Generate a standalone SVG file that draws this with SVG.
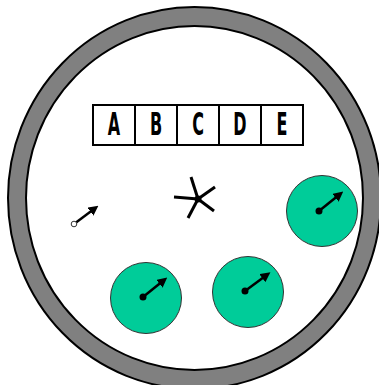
<svg xmlns="http://www.w3.org/2000/svg" width="379" height="385" viewBox="0 0 379 385">
<defs>
<style>
.box{fill:#fff;stroke:#000;stroke-width:2}
.lbl{font-family:"DejaVu Sans","Liberation Sans",sans-serif;font-weight:bold;font-size:32px;text-anchor:middle;fill:#000}
.ball{fill:#00CC99;stroke:#333;stroke-width:1}
.vec{stroke:#000;stroke-width:2.5;fill:none}
.spoke{stroke:#000;stroke-width:3;fill:none;stroke-linecap:butt}
</style>
<marker id="ah" viewBox="0 0 10 10" refX="2" refY="5" markerWidth="4" markerHeight="4" markerUnits="strokeWidth" orient="auto">
<path d="M0,0 L10,5 L0,10 z" fill="#000"/>
</marker>
</defs>
<g id="container">
<ellipse cx="194.5" cy="198" rx="186.5" ry="191" fill="#808080" stroke="#000" stroke-width="2"/>
<ellipse cx="194.5" cy="198" rx="168.5" ry="172" fill="#fff" stroke="#000" stroke-width="2"/>
</g>
<g id="register">
<rect class="box" x="93" y="105" width="42" height="40"/>
<rect class="box" x="135" y="105" width="42" height="40"/>
<rect class="box" x="177" y="105" width="42" height="40"/>
<rect class="box" x="219" y="105" width="42" height="40"/>
<rect class="box" x="261" y="105" width="42" height="40"/>
<text class="lbl" transform="translate(114,135) scale(0.5,1)">A</text>
<text class="lbl" transform="translate(156,135) scale(0.5,1)">B</text>
<text class="lbl" transform="translate(198,135) scale(0.5,1)">C</text>
<text class="lbl" transform="translate(240,135) scale(0.5,1)">D</text>
<text class="lbl" transform="translate(282,135) scale(0.5,1)">E</text>
</g>
<g id="particle">
<line class="vec" x1="76" y1="222.5" x2="92" y2="210.5" stroke-width="2" marker-end="url(#ah)"/>
<circle cx="74" cy="224" r="2.8" fill="#fff" stroke="#333" stroke-width="1"/>
</g>
<g id="star">
<line class="spoke" x1="198" y1="199" x2="174" y2="197"/>
<line class="spoke" x1="198" y1="199" x2="191" y2="177"/>
<line class="spoke" x1="198" y1="199" x2="215" y2="187"/>
<line class="spoke" x1="198" y1="199" x2="214" y2="211"/>
<line class="spoke" x1="198" y1="199" x2="188" y2="218"/>
<circle cx="198" cy="199" r="3.5" fill="#000"/>
</g>
<g id="ball1">
<circle class="ball" cx="322" cy="211" r="35.5"/>
<line class="vec" x1="319" y1="211" x2="337" y2="196.5" marker-end="url(#ah)"/>
<circle cx="319" cy="211" r="3.5" fill="#000"/>
</g>
<g id="ball2">
<circle class="ball" cx="146" cy="298" r="35.5"/>
<line class="vec" x1="143" y1="297" x2="161" y2="282.5" marker-end="url(#ah)"/>
<circle cx="143" cy="297" r="3.5" fill="#000"/>
</g>
<g id="ball3">
<circle class="ball" cx="248" cy="292" r="35.5"/>
<line class="vec" x1="245" y1="291" x2="264" y2="277" marker-end="url(#ah)"/>
<circle cx="245" cy="291" r="3.5" fill="#000"/>
</g>
</svg>
